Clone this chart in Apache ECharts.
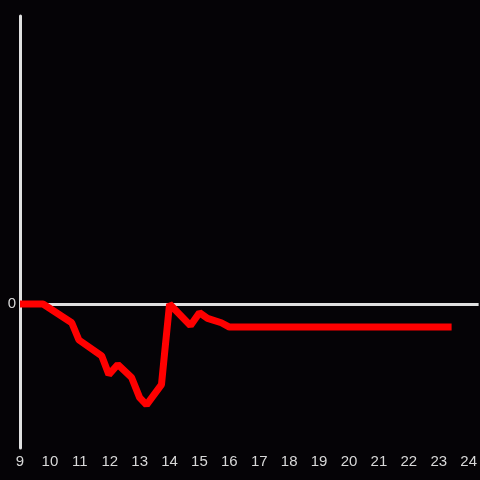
<!DOCTYPE html>
<html>
<head>
<meta charset="utf-8">
<script src="https://cdn.jsdelivr.net/npm/echarts@6/dist/echarts.min.js"></script>
<style>
  html, body { margin: 0; padding: 0; background: #050306; }
  #chart { width: 480px; height: 480px; }
</style>
</head>
<body>
<div id="chart"></div>
<script>
// hour of day
const hours = [9, 9.77, 10.73, 10.97, 11.73, 11.97, 12.27, 12.73, 13, 13.23, 13.73, 13.83, 14, 14.7, 15, 15.27, 15.73, 16, 23.43]
// values
const values = [0, 0, -0.13, -0.25, -0.36, -0.49, -0.42, -0.51, -0.65, -0.7, -0.56, -0.35, 0, -0.15, -0.06, -0.1, -0.13, -0.16, -0.16]

const chart = echarts.init(document.getElementById('chart'))
chart.setOption({
  backgroundColor: '#050306',
  animation: false,
  grid: {
    left: 20,
    right: 0,
    top: 16,
    bottom: 32
  },
  xAxis: {
    type: 'value',
    min: 9,
    max: 24.333,
    interval: 1,
    axisLine: { show: false },
    axisTick: { show: false },
    splitLine: { show: false },
    axisLabel: {
      color: '#d8d8d8',
      fontSize: 15,
      margin: 6,
      showMaxLabel: false,
      formatter: v => (Number.isInteger(v) ? v : '')
    }
  },
  yAxis: {
    type: 'value',
    min: -1,
    max: 2,
    interval: 1,
    axisLine: { show: true, onZero: false, lineStyle: { color: '#e0e0e0', width: 3 } },
    axisTick: { show: false },
    splitLine: { show: false },
    axisLabel: {
      color: '#d8d8d8',
      fontSize: 15,
      margin: 4,
      formatter: v => (v === 0 ? '0' : '')
    }
  },
  series: [
    {
      type: 'line',
      data: hours.map((h, i) => [h, values[i]]),
      showSymbol: false,
      lineStyle: { color: '#ff0000', width: 7 },
      markLine: {
        silent: true,
        symbol: 'none',
        label: { show: false },
        lineStyle: { color: '#e0e0e0', width: 3, type: 'solid' },
        data: [{ yAxis: 0 }],
        z: 1
      },
      z: 3
    }
  ]
})
</script>
</body>
</html>
